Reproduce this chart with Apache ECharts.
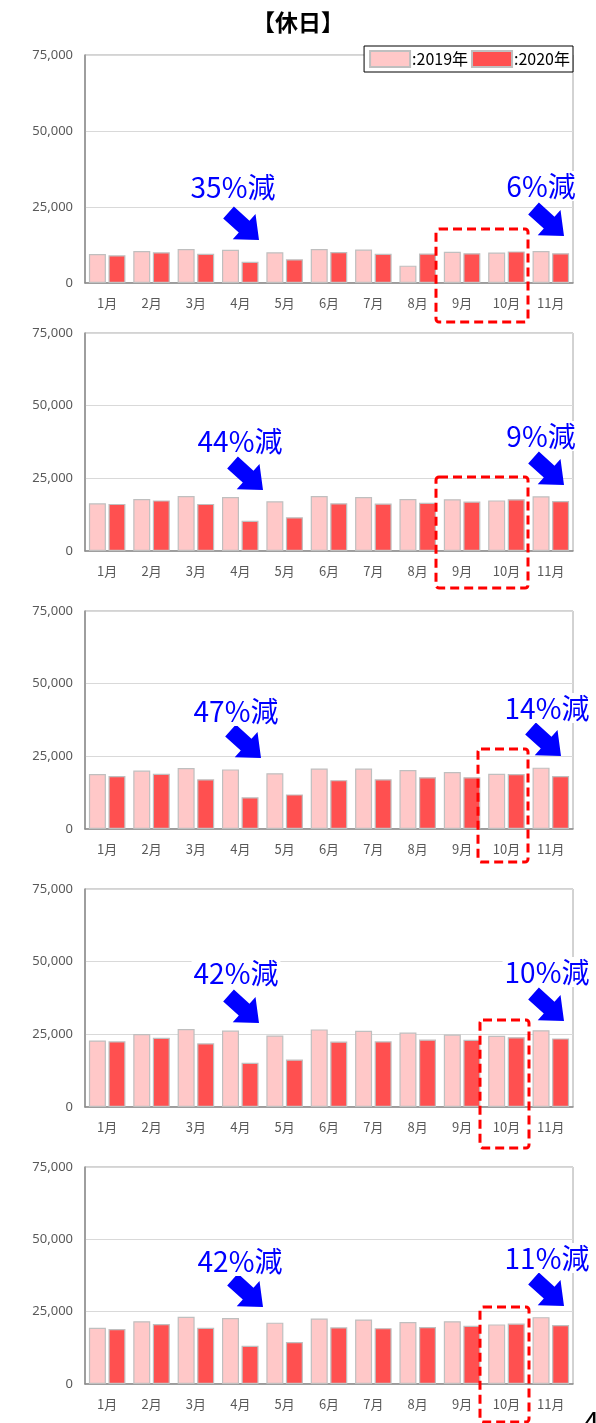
<!DOCTYPE html>
<html>
<head>
<meta charset="utf-8">
<script src="https://cdn.jsdelivr.net/npm/echarts@6/dist/echarts.min.js"></script>
<style>
  html, body { margin: 0; padding: 0; background: #fff; }
  #main { width: 596px; height: 1423px; }
</style>
</head>
<body>
<div id="main"></div>
<script>
  // 月
  const months = ['1月', '2月', '3月', '4月', '5月', '6月', '7月', '8月', '9月', '10月', '11月'];
  const yTicks = [0, 25000, 50000, 75000];

  // 各グラフの値（2019年 / 2020年）
  const a2019 = [9500, 10500, 11200, 10900, 10100, 11200, 11000, 5700, 10300, 10000, 10500];
  const a2020 = [9100, 10100, 9600, 7000, 7800, 10200, 9600, 9700, 9800, 10400, 9800];
  const b2019 = [16400, 17900, 18900, 18600, 17100, 18900, 18600, 17900, 17800, 17400, 18800];
  const b2020 = [16200, 17400, 16200, 10400, 11600, 16400, 16300, 16600, 17000, 17800, 17200];
  const c2019 = [18900, 20100, 21000, 20500, 19200, 20800, 20800, 20300, 19600, 19000, 21100];
  const c2020 = [18200, 19000, 17100, 10900, 11900, 16800, 17100, 17800, 17800, 18900, 18200];
  const d2019 = [22900, 25100, 26800, 26300, 24600, 26700, 26200, 25600, 24900, 24500, 26400];
  const d2020 = [22600, 23800, 21900, 15200, 16300, 22500, 22600, 23200, 23100, 24000, 23600];
  const e2019 = [19400, 21700, 23200, 22800, 21200, 22600, 22300, 21400, 21700, 20600, 23100];
  const e2020 = [19000, 20700, 19400, 13200, 14500, 19600, 19300, 19700, 20100, 20900, 20400];

  // 減少率のラベル
  const leftNotes = ['35%減', '44%減', '47%減', '42%減', '42%減'];
  const rightNotes = ['6%減', '9%減', '14%減', '10%減', '11%減'];

  const pairs = [[a2019, a2020], [b2019, b2020], [c2019, c2020], [d2019, d2020], [e2019, e2020]];

  // レイアウト
  const grids = [
    { top: 55, height: 228 },
    { top: 333, height: 218 },
    { top: 611, height: 218 },
    { top: 889, height: 218 },
    { top: 1167, height: 217 }
  ];
  const leftText = [[233, 187], [240, 441], [236, 711], [236, 973], [240, 1261]];
  const rightText = [[541, 186], [541, 436], [547, 708], [547, 972], [547, 1258]];
  const leftTip = [[259, 240], [263, 490], [261, 758], [259, 1023], [263, 1307]];
  const rightTip = [[564, 236], [564, 485], [561, 756], [564, 1021], [564, 1306]];
  const boxes = [
    [436, 229, 92, 93],
    [436, 477, 92, 111],
    [478, 749, 50, 113],
    [480, 1020, 49, 128],
    [480, 1307, 49, 115]
  ];

  const C2019 = '#FFC8C8';
  const C2020 = '#FF5050';
  const labelFont = 'Noto Sans CJK JP';

  function arrowPoints(tx, ty) {
    const a = 42 * Math.PI / 180;
    const dx = Math.cos(a), dy = Math.sin(a);
    const nx = -Math.sin(a), ny = Math.cos(a);
    const local = [[0, 0], [-20, -17], [-20, -8], [-41, -8], [-41, 8], [-20, 8], [-20, 17]];
    return local.map(p => [tx + p[0] * dx + p[1] * nx, ty + p[0] * dy + p[1] * ny]);
  }

  let chartDom = document.getElementById('main');
  let myChart = echarts.init(chartDom);

  let grid = [], xAxis = [], yAxis = [], series = [], graphic = [];
  grids.forEach((g, i) => {
    grid.push({ left: 85, right: 23, top: g.top, height: g.height, show: true, borderColor: '#A6A6A6', borderWidth: 1 });
    xAxis.push({
      type: 'category', gridIndex: i, data: months,
      axisLine: { lineStyle: { color: '#8C8C8C', width: 1.5 } },
      axisTick: { show: false },
      axisLabel: { color: '#595959', fontSize: 13, margin: 14, fontFamily: labelFont, interval: 0 }
    });
    yAxis.push({
      type: 'value', gridIndex: i, min: yTicks[0], max: yTicks[yTicks.length - 1], interval: 25000,
      axisLine: { show: true, lineStyle: { color: '#8C8C8C', width: 1.5 } },
      axisTick: { show: false },
      splitLine: { lineStyle: { color: '#D9D9D9' } },
      axisLabel: {
        color: '#595959', fontSize: 13, margin: 12, fontFamily: 'Noto Sans',
        formatter: v => v.toLocaleString('en-US')
      }
    });
    series.push({
      name: '2019年', type: 'bar', xAxisIndex: i, yAxisIndex: i, data: pairs[i][0],
      barWidth: 17, barGap: '15%',
      itemStyle: { color: C2019, borderColor: '#BFBFBF', borderWidth: 1.2 }
    });
    series.push({
      name: '2020年', type: 'bar', xAxisIndex: i, yAxisIndex: i, data: pairs[i][1],
      barWidth: 17, barGap: '15%',
      itemStyle: { color: C2020, borderColor: '#BFBFBF', borderWidth: 1.2 }
    });

    // 赤い点線の枠
    graphic.push({
      type: 'rect', z: 100,
      shape: { x: boxes[i][0], y: boxes[i][1], width: boxes[i][2], height: boxes[i][3], r: 3 },
      style: { fill: 'none', stroke: '#FF0000', lineWidth: 3, lineDash: [9, 5] }
    });
    // 矢印
    [leftTip[i], rightTip[i]].forEach(t => {
      graphic.push({
        type: 'polygon', z: 100,
        shape: { points: arrowPoints(t[0], t[1]) },
        style: { fill: '#0000FF' }
      });
    });
    // 減少率
    [[leftText[i], leftNotes[i]], [rightText[i], rightNotes[i]]].forEach(p => {
      graphic.push({
        type: 'text', z: 101, x: p[0][0], y: p[0][1],
        style: {
          text: p[1], fill: '#0000FF', font: '28px "' + labelFont + '"',
          align: 'center', verticalAlign: 'middle',
          backgroundColor: '#fff', padding: [1, 2]
        }
      });
    });
  });

  graphic.push({
    type: 'text', x: 298, y: 22,
    style: { text: '【休日】', fill: '#000', font: 'bold 23px "' + labelFont + '"', align: 'center', verticalAlign: 'middle' }
  });
  graphic.push({
    type: 'text', x: 582, y: 1410,
    style: { text: '4', fill: '#000', font: '30px "Noto Sans"', align: 'left', verticalAlign: 'top' }
  });

  let option = {
    animation: false,
    backgroundColor: '#fff',
    legend: {
      data: ['2019年', '2020年'],
      right: 23, top: 46,
      icon: 'rect',
      itemWidth: 40, itemHeight: 16, itemGap: 3,
      padding: [4, 3, 4, 5],
      backgroundColor: '#fff', borderColor: '#000', borderWidth: 1,
      formatter: n => ':' + n,
      textStyle: { color: '#000', fontSize: 16, fontFamily: labelFont, padding: [0, 0, 0, -3] }
    },
    grid: grid,
    xAxis: xAxis,
    yAxis: yAxis,
    series: series,
    graphic: graphic
  };
  option && myChart.setOption(option);
</script>
</body>
</html>
